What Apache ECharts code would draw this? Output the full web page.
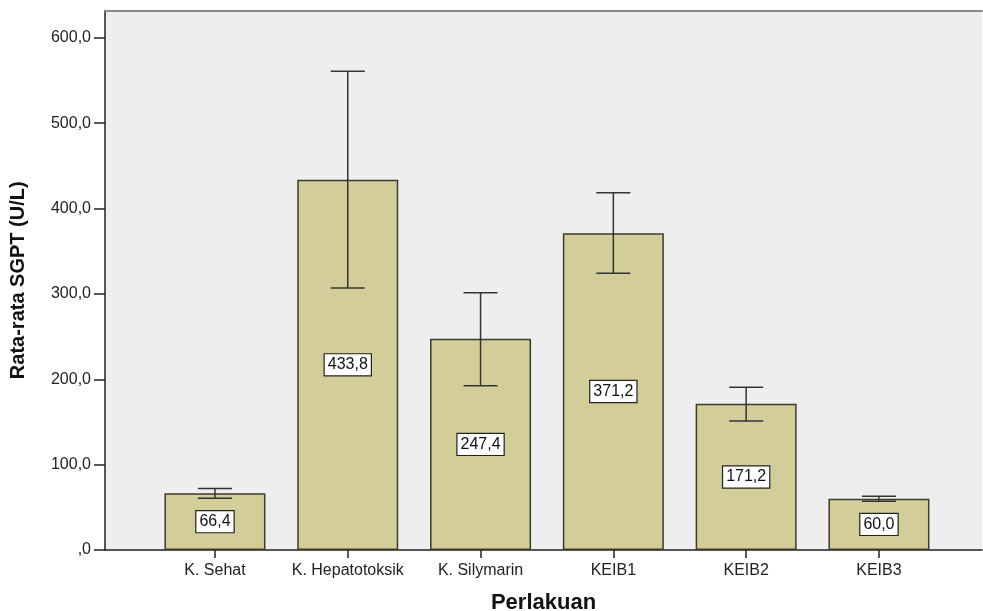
<!DOCTYPE html>
<html>
<head>
<meta charset="utf-8">
<script src="https://cdn.jsdelivr.net/npm/echarts@6/dist/echarts.min.js"></script>
<style>
html,body{margin:0;padding:0;background:#fff;}
#chart{width:983px;height:611px;}
</style>
</head>
<body>
<div id="chart"></div>
<script>
const categories = ['K. Sehat', 'K. Hepatotoksik', 'K. Silymarin', 'KEIB1', 'KEIB2', 'KEIB3'];
const means = [66.4, 433.8, 247.4, 371.2, 171.2, 60.0];
const errLow = [60.7, 306.8, 192.5, 324.3, 151.2, 57.0];
const errHigh = [72.1, 560.8, 301.5, 418.4, 190.7, 63.0];
const yTicks = [0, 100, 200, 300, 400, 500, 600];
const yTitle = 'Rata-rata SGPT (U/L)';
const xTitle = 'Perlakuan';

const FONT = "'Liberation Sans', Arial, sans-serif";
const fmt = v => v === 0 ? ',0' : v.toFixed(1).replace('.', ',');
const catIdx = categories.map((c, i) => i);

const chart = echarts.init(document.getElementById('chart'), null, {renderer: 'canvas'});

const option = {
  animation: false,
  backgroundColor: '#ffffff',
  grid: {
    left: 105, right: 1, top: 10.5, bottom: 61,
    outerBoundsMode: 'none',
    containLabel: false,
    show: true, backgroundColor: '#eeeeee', borderWidth: 0
  },
  xAxis: [{
    type: 'value',
    min: -0.828, max: 5.776,
    splitLine: {show: false},
    axisLine: {show: true, onZero: false, lineStyle: {color: '#222', width: 1.5}},
    axisTick: {show: true, customValues: catIdx, length: 8, lineStyle: {color: '#222', width: 1.5}},
    axisLabel: {
      customValues: catIdx,
      formatter: v => categories[Math.round(v)] || '',
      fontFamily: FONT, fontSize: 16, color: '#222', margin: 13
    },
    name: xTitle,
    nameLocation: 'middle',
    nameGap: 42,
    nameTextStyle: {fontFamily: FONT, fontSize: 22, fontWeight: 'bold', color: '#111'}
  }, {
    type: 'value', position: 'top',
    min: -0.828, max: 5.776,
    splitLine: {show: false},
    axisLine: {show: true, onZero: false, lineStyle: {color: '#8a8a8a', width: 2}},
    axisTick: {show: false},
    axisLabel: {show: false}
  }],
  yAxis: {
    type: 'value',
    min: 0, max: 632,
    splitLine: {show: false},
    axisLine: {show: true, onZero: false, lineStyle: {color: '#222', width: 1.5}},
    axisTick: {show: true, customValues: yTicks, length: 11, lineStyle: {color: '#222', width: 1.5}},
    axisLabel: {
      customValues: yTicks,
      formatter: v => fmt(v),
      fontFamily: FONT, fontSize: 16, color: '#222', margin: 14
    },
    name: yTitle,
    nameLocation: 'middle',
    nameRotate: 90,
    nameGap: 77,
    nameTextStyle: {fontFamily: FONT, fontSize: 20, fontWeight: 'bold', color: '#111'}
  },
  series: [{
    type: 'bar',
    xAxisIndex: 0,
    barWidth: 101,
    data: means.map((m, i) => [i, m]),
    itemStyle: {color: '#d3ce99', borderColor: '#3d3b2b', borderWidth: 1.5},
    label: {
      show: true,
      position: 'inside',
      formatter: p => fmt(p.value[1]),
      fontFamily: FONT, fontSize: 16, color: '#111',
      backgroundColor: '#ffffff', borderColor: '#222', borderWidth: 1.2,
      padding: [3, 3, 2, 3]
    },
    z: 2
  }, {
    type: 'custom',
    xAxisIndex: 0,
    data: catIdx.map(i => [i, errLow[i], errHigh[i]]),
    renderItem: (params, api) => {
      const x = api.value(0);
      const lo = api.coord([x, api.value(1)]);
      const hi = api.coord([x, api.value(2)]);
      const half = 17;
      const style = {stroke: '#333', lineWidth: 1.5};
      return {
        type: 'group',
        children: [
          {type: 'line', shape: {x1: lo[0], y1: lo[1], x2: hi[0], y2: hi[1]}, style},
          {type: 'line', shape: {x1: hi[0] - half, y1: hi[1], x2: hi[0] + half, y2: hi[1]}, style},
          {type: 'line', shape: {x1: lo[0] - half, y1: lo[1], x2: lo[0] + half, y2: lo[1]}, style}
        ]
      };
    },
    z: 3
  }]
};
chart.setOption(option);
</script>
</body>
</html>
